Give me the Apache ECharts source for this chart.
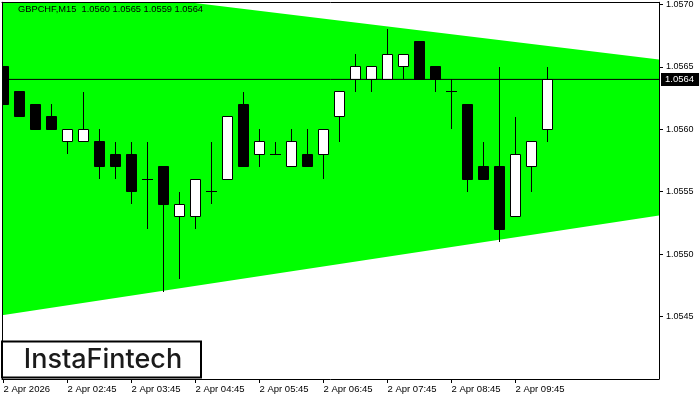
<!DOCTYPE html>
<html>
<head>
<meta charset="utf-8">
<script src="https://cdn.jsdelivr.net/npm/echarts@6/dist/echarts.min.js"></script>
<style>html,body{margin:0;padding:0;background:#fff}#c{width:700px;height:400px}</style>
</head>
<body>
<div id="c"></div>
<script>
// ---- data ----
const symbolTitle = 'GBPCHF,M15  1.0560 1.0565 1.0559 1.0564';
const openP  = [1.0565,1.0563,1.0562,1.0561,1.0559,1.0559,1.0559,1.0558,1.0558,1.0556,1.0557,1.0553,1.0553,1.0555,1.0556,1.0562,1.0558,1.0558,1.0557,1.0558,1.0558,1.0561,1.0564,1.0564,1.0564,1.0565,1.0567,1.0565,1.0563,1.0562,1.0557,1.0557,1.0553,1.0557,1.0560];
const highP  = [1.0565,1.0563,1.0562,1.0562,1.0560,1.0563,1.0560,1.0559,1.0559,1.0559,1.0557,1.0555,1.0556,1.0559,1.0561,1.0563,1.0560,1.0559,1.0560,1.0560,1.0560,1.0563,1.0566,1.0565,1.0568,1.0566,1.0567,1.0565,1.0564,1.0562,1.0559,1.0565,1.0561,1.0559,1.0565];
const lowP   = [1.0562,1.0561,1.0560,1.0560,1.0558,1.0559,1.0556,1.0556,1.0554,1.0552,1.0547,1.0548,1.0552,1.0554,1.0556,1.0557,1.0557,1.0558,1.0557,1.0557,1.0556,1.0559,1.0563,1.0563,1.0564,1.0564,1.0564,1.0563,1.0560,1.0555,1.0556,1.0551,1.0553,1.0555,1.0559];
const closeP = [1.0562,1.0561,1.0560,1.0560,1.0560,1.0560,1.0557,1.0557,1.0555,1.0556,1.0554,1.0554,1.0556,1.0555,1.0561,1.0557,1.0559,1.0558,1.0559,1.0557,1.0560,1.0563,1.0565,1.0565,1.0566,1.0566,1.0564,1.0564,1.0563,1.0556,1.0556,1.0552,1.0558,1.0559,1.0564];
const timeTickIndex  = [0,4,8,12,16,20,24,28,32];
const timeTickLabels = ['2 Apr 2026','2 Apr 02:45','2 Apr 03:45','2 Apr 04:45','2 Apr 05:45','2 Apr 06:45','2 Apr 07:45','2 Apr 08:45','2 Apr 09:45'];
const priceTicks = [1.0545,1.0550,1.0555,1.0560,1.0565,1.0570];
const currentPrice = 1.0564;
const triangleTop    = [[-0.09375, 1.05720], [40.96875, 1.05656]];
const triangleBottom = [[-0.09375, 1.05451], [40.96875, 1.05531]];
const logoText = 'InstaFintech';

// ---- build ----
const X_MIN = -0.09375, X_MAX = 40.96875, Y_MIN = 1.0540, Y_MAX = 1.057018;
const candleData = openP.map((o, i) => [i, o, closeP[i], lowP[i], highP[i]]);
const triData = [[triangleTop[0][0], triangleTop[0][1], triangleBottom[0][1], triangleTop[1][0], triangleTop[1][1], triangleBottom[1][1]]];
const priceLineData = [[X_MIN, currentPrice], [X_MAX, currentPrice]];

const chart = echarts.init(document.getElementById('c'), null, {renderer: 'canvas'});
const font = 'Liberation Sans, Arial, sans-serif';

function snap(v) { return Math.floor(v) + 0.5; }

const frameAxisLine = {show: true, onZero: false, lineStyle: {color: '#000', width: 1}};

chart.setOption({
  animation: false,
  backgroundColor: '#ffffff',
  title: {
    text: symbolTitle, left: 18, top: 5, padding: 0,
    textStyle: {fontFamily: font, fontSize: 9.3, fontWeight: 'normal', color: '#000'}
  },
  grid: {left: 2, right: 41, top: 2, bottom: 21, show: false},
  xAxis: [
    {
      type: 'value', min: X_MIN, max: X_MAX, z: 10,
      splitLine: {show: false},
      axisLine: frameAxisLine,
      axisTick: {show: true, length: 4, customValues: timeTickIndex, lineStyle: {color: '#000'}},
      axisLabel: {
        customValues: timeTickIndex, align: 'left', margin: 5,
        fontFamily: font, fontSize: 9.5, color: '#000',
        formatter: v => timeTickLabels[timeTickIndex.indexOf(Math.round(v))] || ''
      }
    },
    {
      type: 'value', position: 'top', min: X_MIN, max: X_MAX, z: 10,
      splitLine: {show: false}, axisTick: {show: false}, axisLabel: {show: false},
      axisLine: frameAxisLine
    }
  ],
  yAxis: [
    {
      type: 'value', position: 'right', min: Y_MIN, max: Y_MAX, z: 10,
      splitLine: {show: false},
      axisLine: frameAxisLine,
      axisTick: {show: true, length: 4, customValues: priceTicks, lineStyle: {color: '#000'}},
      axisLabel: {
        customValues: priceTicks, margin: 7,
        fontFamily: font, fontSize: 9, color: '#000',
        formatter: v => v.toFixed(4)
      }
    },
    {
      type: 'value', position: 'left', min: Y_MIN, max: Y_MAX, z: 10,
      splitLine: {show: false}, axisTick: {show: false}, axisLabel: {show: false},
      axisLine: frameAxisLine
    }
  ],
  series: [
    {
      type: 'custom', z: 1, clip: true, silent: true,
      data: triData,
      encode: {x: [0, 3], y: [1, 2, 4, 5]},
      renderItem: function (params, api) {
        const p1 = api.coord([api.value(0), api.value(1)]);
        const p2 = api.coord([api.value(3), api.value(4)]);
        const p3 = api.coord([api.value(3), api.value(5)]);
        const p4 = api.coord([api.value(0), api.value(2)]);
        return {type: 'polygon', shape: {points: [p1, p2, p3, p4]}, style: {fill: '#00ff00', stroke: null}};
      }
    },
    {
      type: 'custom', z: 2, clip: true, silent: true,
      data: candleData,
      encode: {x: 0, y: [1, 2, 3, 4]},
      renderItem: function (params, api) {
        const i = api.value(0);
        const o = api.value(1), c = api.value(2), l = api.value(3), h = api.value(4);
        const po = api.coord([i, o]), pc = api.coord([i, c]);
        const pl = api.coord([i, l]), ph = api.coord([i, h]);
        const cx = snap(po[0]);
        const children = [];
        children.push({type: 'line', shape: {x1: cx, y1: Math.round(ph[1]), x2: cx, y2: Math.round(pl[1])}, style: {stroke: '#000', lineWidth: 1}});
        if (Math.abs(o - c) < 1e-9) {
          const y = snap(po[1]);
          children.push({type: 'line', shape: {x1: cx - 5.5, y1: y, x2: cx + 5.5, y2: y}, style: {stroke: '#000', lineWidth: 1}});
        } else {
          const yt = snap(Math.min(po[1], pc[1]));
          const yb = snap(Math.max(po[1], pc[1]));
          const bull = c > o;
          children.push({type: 'rect', shape: {x: cx - 5, y: yt, width: 10, height: yb - yt},
            style: {fill: bull ? '#fff' : '#000', stroke: '#000', lineWidth: 1}});
        }
        return {type: 'group', children: children};
      }
    },
    {
      type: 'line', z: 3, silent: true, symbol: 'none', clip: false,
      data: priceLineData,
      lineStyle: {color: '#000', width: 1},
      endLabel: {
        show: true, distance: 2,
        formatter: () => currentPrice.toFixed(4),
        backgroundColor: '#000', color: '#fff', padding: [2, 5, 1, 4],
        fontFamily: font, fontSize: 9.5
      }
    }
  ],
  graphic: [
    {
      type: 'group', left: 1, top: 340.5, z: 100,
      children: [
        {type: 'rect', shape: {x: 1, y: 1, width: 199, height: 36}, style: {fill: '#fff', stroke: '#000', lineWidth: 2}},
        {type: 'text', x: 102, y: 19.5, style: {text: logoText, fill: '#1a1a1a', font: '500 27px Inter, "Noto Sans", sans-serif', textAlign: 'center', textVerticalAlign: 'middle'}}
      ]
    }
  ]
});
</script>
</body>
</html>
